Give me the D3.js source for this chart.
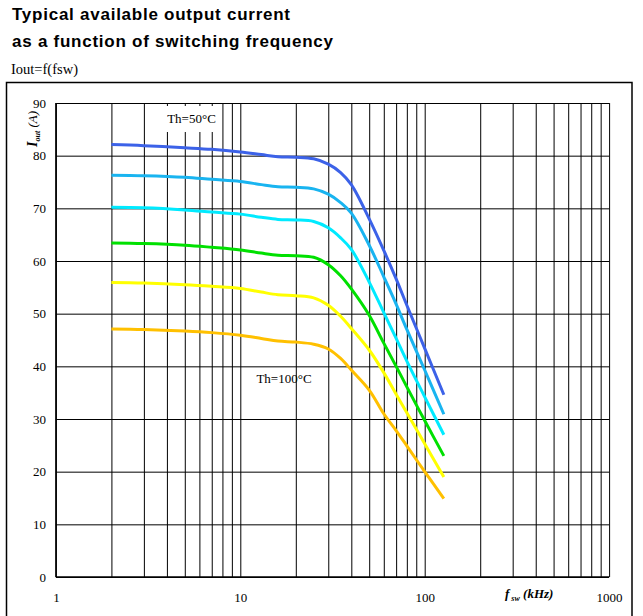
<!DOCTYPE html>
<html>
<head>
<meta charset="utf-8">
<script src="https://cdn.jsdelivr.net/npm/d3@7"></script>
<style>
  html, body { margin: 0; padding: 0; background: #fff; }
  svg { display: block; }
</style>
</head>
<body>
<script>
// ---- data ----
const freq = [2, 3, 5, 7, 10, 13, 16, 20, 25, 30, 35, 40, 50, 60, 70, 80, 100, 127];
const seriesNames = ["Th=50°C", "Th=60°C", "Th=70°C", "Th=80°C", "Th=90°C", "Th=100°C"];
const iout50  = [82.1, 81.9, 81.5, 81.2, 80.7, 80.2, 79.8, 79.7, 79.4, 78.4, 76.8, 74.5, 68.0, 62.0, 56.6, 51.6, 43.4, 34.6];
const iout60  = [76.3, 76.2, 75.9, 75.5, 75.1, 74.5, 74.1, 74.0, 73.7, 72.7, 71.1, 69.1, 63.0, 57.0, 51.8, 47.0, 39.3, 30.9];
const iout70  = [70.2, 70.1, 69.7, 69.3, 68.9, 68.3, 67.9, 67.8, 67.5, 66.3, 64.4, 62.2, 56.0, 50.2, 45.3, 41.0, 34.2, 27.0];
const iout80  = [63.4, 63.3, 63.0, 62.6, 62.1, 61.5, 61.1, 61.0, 60.7, 59.3, 57.2, 54.7, 49.7, 44.4, 40.0, 36.1, 29.7, 23.0];
const iout90  = [55.9, 55.8, 55.5, 55.2, 54.8, 54.1, 53.6, 53.4, 53.0, 51.6, 49.5, 47.2, 43.1, 38.8, 34.7, 31.2, 25.3, 19.0];
const iout100 = [47.1, 47.0, 46.7, 46.4, 45.9, 45.3, 44.8, 44.6, 44.2, 43.3, 41.5, 39.3, 35.5, 31.0, 27.8, 24.9, 20.0, 14.9];
const seriesValues = [iout50, iout60, iout70, iout80, iout90, iout100];
const seriesColors = ["#3C62E8", "#19B4F0", "#00EAFF", "#00E000", "#FFFF00", "#FFC000"];
const xTickLabels = [1, 10, 100, 1000];
const yTickValues = [0, 10, 20, 30, 40, 50, 60, 70, 80, 90];

// ---- layout ----
const W = 643, H = 616;
const svg = d3.select("body").append("svg").attr("width", W).attr("height", H);

const x = d3.scaleLog().domain([1, 1000]).range([55.9, 609.1]);
const y = d3.scaleLinear().domain([0, 90]).range([577, 103]);

// titles
const title = svg.append("g").attr("font-family", "'Liberation Sans', Arial, sans-serif")
  .attr("font-weight", "bold").attr("font-size", 17).attr("letter-spacing", "0.75px").attr("fill", "#000");
title.append("text").attr("x", 12).attr("y", 20).text("Typical available output current");
title.append("text").attr("x", 12).attr("y", 46.5).text("as a function of switching frequency");
svg.append("text").attr("x", 11).attr("y", 74)
  .attr("font-family", "'Liberation Serif', 'Times New Roman', serif").attr("font-size", 14.5)
  .text("Iout=f(fsw)");

// outer frame
svg.append("rect").attr("x", 6.5).attr("y", 82.5).attr("width", 625.5).attr("height", 600)
  .attr("fill", "none").attr("stroke", "#000").attr("stroke-width", 1.5);

const serif = "'Liberation Serif', 'Times New Roman', serif";

// x grid + labels
const xAxis = d3.axisBottom(x)
  .tickValues(x.ticks())
  .tickSize(-(y(0) - y(90)))
  .tickPadding(15.8)
  .tickFormat(d => xTickLabels.includes(d) ? String(d) : "");
const gx = svg.append("g").attr("transform", `translate(0,${y(0)})`).call(xAxis);
gx.select(".domain").remove();
gx.selectAll("line").attr("stroke", "#000").attr("stroke-width", 1);
gx.selectAll("text").attr("font-family", serif).attr("font-size", 13).attr("fill", "#000");

// y grid + labels
const yAxis = d3.axisLeft(y)
  .tickValues(yTickValues)
  .tickSize(-(x(1000) - x(1)))
  .tickPadding(10)
  .tickFormat(d3.format("d"));
const gy = svg.append("g").attr("transform", `translate(${x(1)},0)`).call(yAxis);
gy.select(".domain").remove();
gy.selectAll("line").attr("stroke", "#000").attr("stroke-width", 1);
gy.selectAll("text").attr("font-family", serif).attr("font-size", 13).attr("fill", "#000");

// heavier left and bottom axis lines
svg.append("line").attr("x1", x(1)).attr("x2", x(1)).attr("y1", y(90)).attr("y2", y(0))
  .attr("stroke", "#000").attr("stroke-width", 1.5);
svg.append("line").attr("x1", x(1)).attr("x2", x(1000)).attr("y1", y(0)).attr("y2", y(0))
  .attr("stroke", "#000").attr("stroke-width", 1.5);

// label box for Th=50°C (white background hides grid)
svg.append("rect").attr("x", 152).attr("y", 106).attr("width", 68).attr("height", 26).attr("fill", "#fff");
svg.append("text").attr("x", 191.5).attr("y", 123).attr("text-anchor", "middle")
  .attr("font-family", serif).attr("font-size", 13).text(seriesNames[0]);
svg.append("text").attr("x", 284).attr("y", 382.5).attr("text-anchor", "middle")
  .attr("font-family", serif).attr("font-size", 13).text(seriesNames[5]);

// curves
const line = d3.line()
  .x((d, i) => x(freq[i]))
  .y(d => y(d))
  .curve(d3.curveCatmullRom.alpha(0.5));
svg.append("g").selectAll("path").data(seriesValues).join("path")
  .attr("d", d => line(d))
  .attr("fill", "none")
  .attr("stroke", (d, i) => seriesColors[i])
  .attr("stroke-width", 3)
  .attr("stroke-linecap", "butt");

// axis titles
const yt = svg.append("text").attr("transform", "translate(37,129) rotate(-90)")
  .attr("text-anchor", "middle").attr("font-family", serif).attr("font-style", "italic");
yt.append("tspan").attr("font-weight", "bold").attr("font-size", 14).text("I");
yt.append("tspan").attr("font-weight", "bold").attr("font-size", 8).attr("dy", 2.5).text("out");
yt.append("tspan").attr("font-size", 13).attr("dy", -2.5).text(" (A)");

const xt = svg.append("text").attr("x", 505).attr("y", 598)
  .attr("font-family", serif).attr("font-style", "italic").attr("font-weight", "bold");
xt.append("tspan").attr("font-size", 13).text("f");
xt.append("tspan").attr("font-size", 8).attr("dy", 2.5).text(" sw");
xt.append("tspan").attr("font-size", 13).attr("dy", -2.5).text(" (kHz)");
</script>
</body>
</html>
